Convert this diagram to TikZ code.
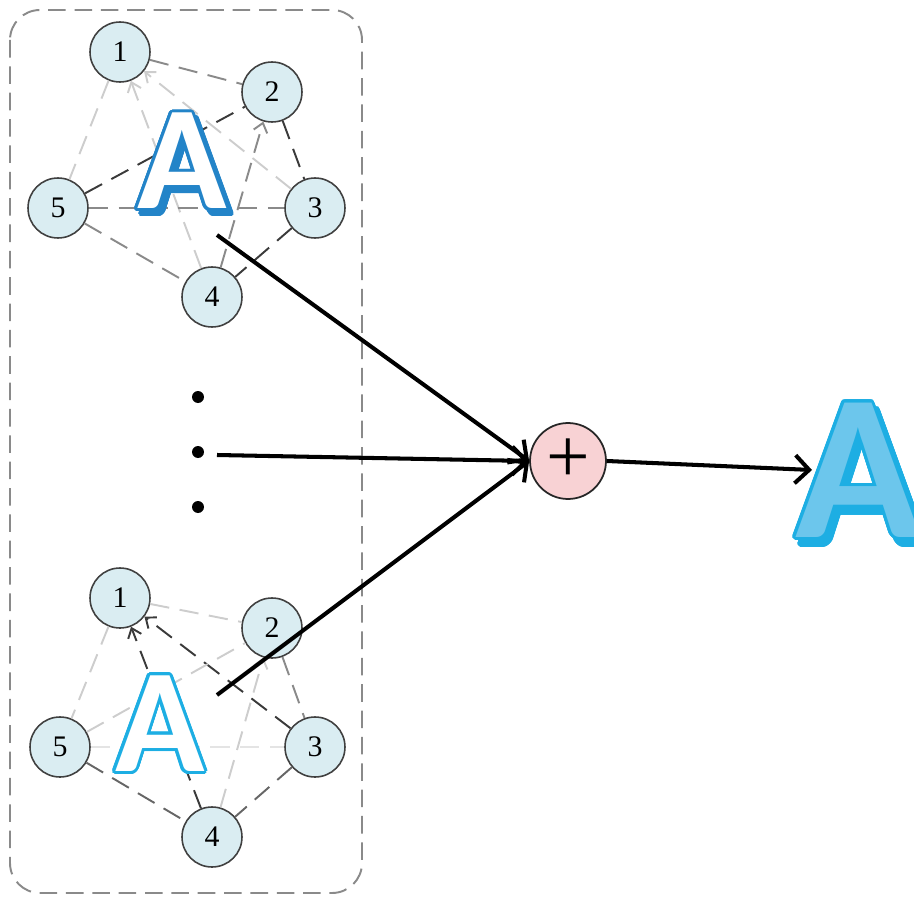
\documentclass[tikz,border=0pt]{standalone}
\usepackage{fontspec}
\setmainfont{Liberation Serif}
\newfontfamily\wordart{Carlito}
\usepackage[copies]{contour}
\usetikzlibrary{arrows.meta}
\definecolor{NODEFILL}{HTML}{DAEDF2}
\definecolor{SUMFILL}{HTML}{F8D2D4}
\definecolor{DARKEDGE}{HTML}{3A3A3A}
\definecolor{MIDEDGE}{HTML}{8A8A8A}
\definecolor{MIDDARKEDGE}{HTML}{666666}
\definecolor{LIGHTEDGE}{HTML}{CDCDCD}
\definecolor{PALEEDGE}{HTML}{E4E4E4}
\definecolor{LETTERBLUE}{HTML}{2384C8}
\definecolor{LETTERCYAN}{HTML}{1DAEE3}
\definecolor{LETTERFILL}{HTML}{6CC6EC}
\contourlength{1.6pt}
\contournumber{32}

\begin{document}
\begin{tikzpicture}[x=0.02cm, y=-0.02cm,
	vertex/.style={circle, draw=black!75, fill=NODEFILL, line width=0.9pt, minimum size=1.2cm, inner sep=0pt, font=\fontsize{17}{17}\selectfont},
	edge/.style={line width=1.1pt, dash pattern=on 11pt off 6pt},
	dark/.style={edge, DARKEDGE},
	middark/.style={edge, MIDDARKEDGE},
	mid/.style={edge, MIDEDGE},
	light/.style={edge, LIGHTEDGE},
	pale/.style={edge, PALEEDGE},
	tip/.style={-{Straight Barb[length=5pt, width=8pt]}},
	flow/.style={line width=2.3pt, -{Straight Barb[length=8pt, width=16pt, line width=2.3pt]}},
	letter/.style={inner sep=0pt, font=\wordart\bfseries\fontsize{84}{84}\selectfont},
	dot/.style={circle, fill=black, minimum size=0.24cm, inner sep=0pt}]
	\useasboundingbox (0,0) rectangle (914,899);

	% group box
	\draw[MIDEDGE, line width=1.1pt, dash pattern=on 10pt off 5pt, rounded corners=0.6cm] (10,10) rectangle (362,893);

	% first graph
	\node [vertex] (n1) at (120,52)  {1};
	\node [vertex] (n2) at (272,92)  {2};
	\node [vertex] (n3) at (315,208) {3};
	\node [vertex] (n4) at (212,297) {4};
	\node [vertex] (n5) at (58,208)  {5};

	\draw[mid]   (n1) -- (n2);
	\draw[light] (n1) -- (n5);
	\draw[light, tip] (n3) -- (n1);
	\draw[light, tip] (n4) -- (n1);
	\draw[dark]  (n5) -- (n2);
	\draw[mid]   (n5) -- (n3);
	\draw[mid]   (n5) -- (n4);
	\draw[dark]  (n2) -- (n3);
	\draw[mid, tip] (n4) -- (n2);
	\draw[dark]  (n3) -- (n4);

	\node [letter] (topA) at (182,165) {\makebox[0pt][l]{\kern2.5pt\raisebox{-3pt}{\contour{LETTERBLUE}{\textcolor{LETTERBLUE}{A}}}}\contour{LETTERBLUE}{\textcolor{white}{A}}};

	% dots
	\node [dot] (d1) at (198,397) {};
	\node [dot] (d2) at (198,452) {};
	\node [dot] (d3) at (198,507) {};

	% last graph
	\node [vertex] (m1) at (120,598) {1};
	\node [vertex] (m2) at (272,628) {2};
	\node [vertex] (m3) at (315,747) {3};
	\node [vertex] (m4) at (212,837) {4};
	\node [vertex] (m5) at (60,747)  {5};

	\draw[light] (m1) -- (m2);
	\draw[light] (m1) -- (m5);
	\draw[dark, tip] (m3) -- (m1);
	\draw[dark, tip] (m4) -- (m1);
	\draw[light] (m5) -- (m2);
	\draw[pale]  (m5) -- (m3);
	\draw[middark] (m5) -- (m4);
	\draw[mid]   (m2) -- (m3);
	\draw[light, tip] (m4) -- (m2);
	\draw[middark] (m3) -- (m4);

	\node [letter] (botA) at (160,725) {\contour{LETTERCYAN}{\textcolor{white}{A}}};

	% sum and result
	\node [circle, draw=black!85, fill=SUMFILL, line width=1pt, minimum size=1.52cm, inner sep=0pt, font=\fontsize{44}{44}\selectfont] (sum) at (568,461) {+};
	\node [letter, font=\wordart\bfseries\fontsize{118}{118}\selectfont] (outA) at (858,475) {\makebox[0pt][l]{\kern3pt\raisebox{-4pt}{\contour{LETTERCYAN}{\textcolor{LETTERCYAN}{A}}}}\contour{LETTERCYAN}{\textcolor{LETTERFILL}{A}}};

	\coordinate (s1) at (217,235);
	\coordinate (s2) at (217,455);
	\coordinate (s3) at (217,695);
	\coordinate (e1) at (812,470);

	\draw[flow] (s1) -- (sum.west);
	\draw[flow] (s2) -- (sum.west);
	\draw[flow] (s3) -- (sum.west);
	\draw[flow] (sum.east) -- (e1);
\end{tikzpicture}
\end{document}
